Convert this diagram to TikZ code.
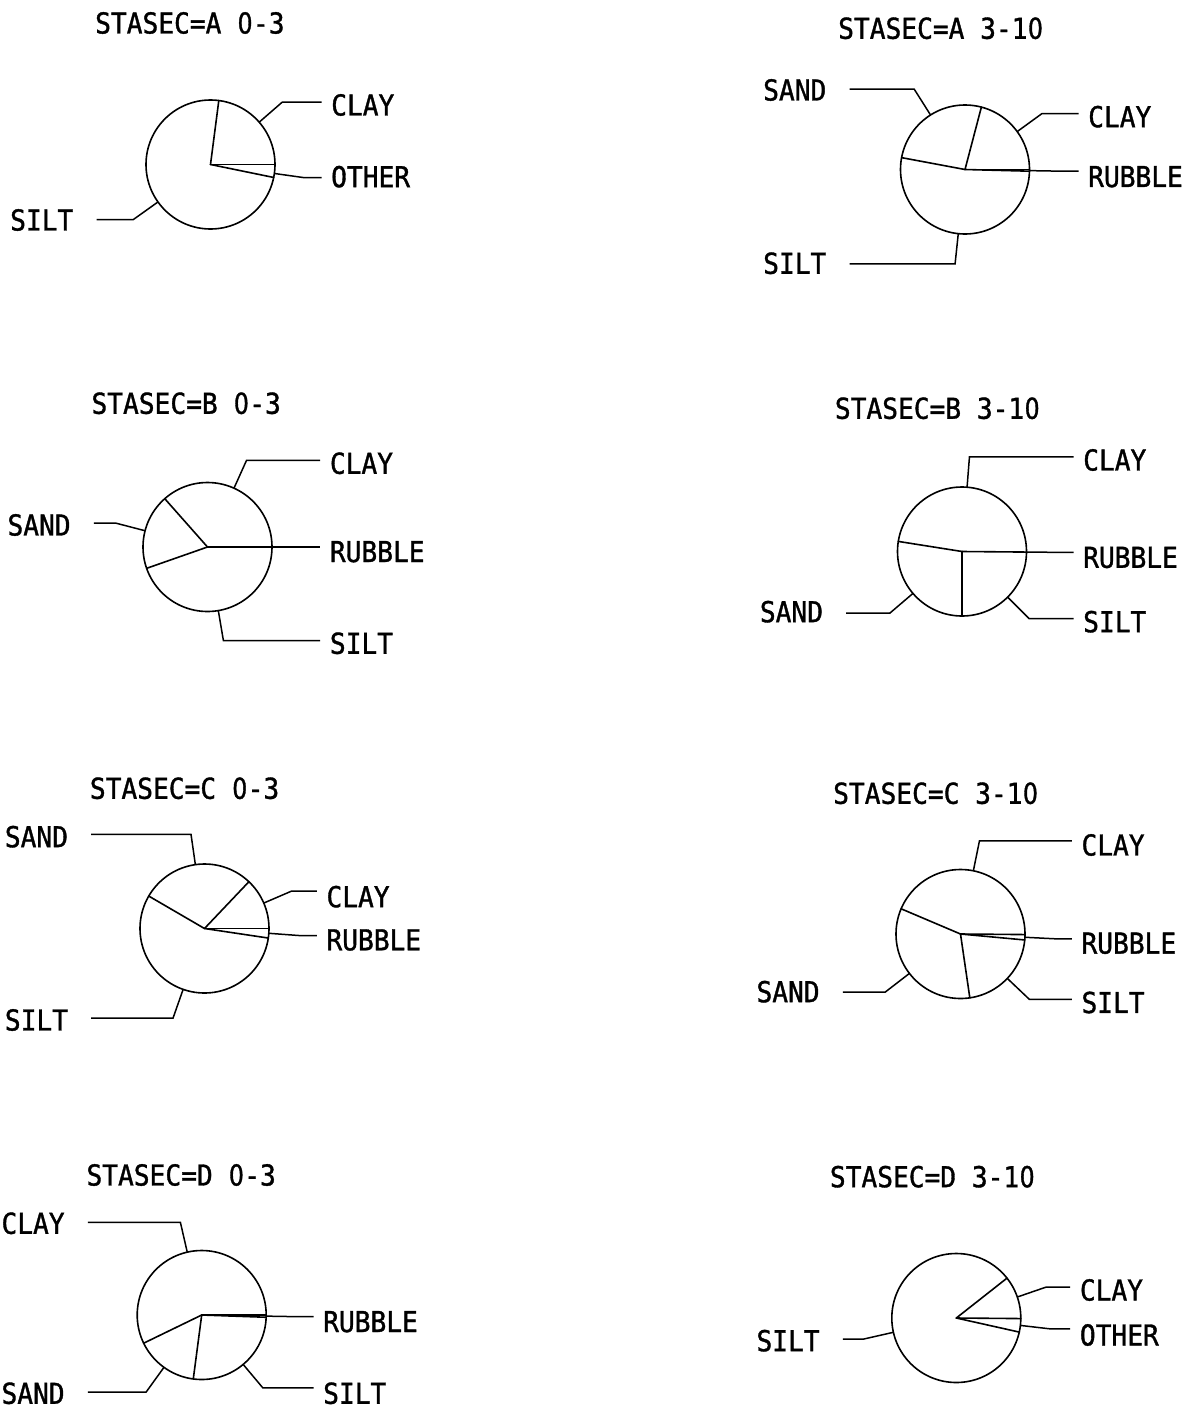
\documentclass[tikz,border=0pt]{standalone}
\usepackage{fontspec}
\newfontfamily\lblfont[FakeStretch=0.91,FakeBold=1.2]{DejaVu Sans Mono}
\newfontfamily\zerofont[FakeStretch=0.82,FakeBold=1.2]{DejaVu Sans}
\newcommand{\zr}{\makebox[15.78pt]{\zerofont 0}}
\usetikzlibrary{calc}
\tikzset{
  disk/.style={circle, draw, minimum size=129pt, inner sep=0pt, outer sep=0pt, line width=1.6pt},
  pieline/.style={line width=1.6pt, line cap=round},
  leader/.style={line width=1.5pt, line join=miter},
  lbl/.style={font=\lblfont\fontsize{28.8pt}{31pt}\selectfont, inner sep=0pt, anchor=west},
  ttl/.style={lbl},
}
\newcommand{\piedisk}[3]{%
  \node[disk] (#1) at (#2) {};
  \foreach \a in {#3} {\draw[pieline] (#1.center) -- ($(#1.center)+(\a:64.5)$);}
}
\newcommand{\leadR}[3]{%
  \draw[leader, shorten >=9.5pt] ($(#1.center)+(#2:64.5)$) -- ($(#1.center)+(#2:95)$) coordinate (elb) -- (elb -| #3.west);
}
\newcommand{\leadL}[3]{%
  \draw[leader, shorten >=23pt] ($(#1.center)+(#2:64.5)$) -- ($(#1.center)+(#2:95)$) coordinate (elb) -- (elb -| #3.east);
}
\begin{document}
\begin{tikzpicture}[x=1pt,y=1pt]
\useasboundingbox (0,0) rectangle (1193,-1408);

% ---------- STASEC=A 0-3
\node[ttl] (ta1) at (95,-23) {STASEC=A \zr-3};
\piedisk{a1}{210.5,-164.5}{82.6,0,-11.6}
\node[lbl] (a1clay) at (331,-105) {CLAY};
\node[lbl] (a1other) at (331,-176.7) {OTHER};
\node[lbl] (a1silt) at (10,-220) {SILT};
\leadR{a1}{41}{a1clay}
\leadR{a1}{-8}{a1other}
\leadL{a1}{215.5}{a1silt}

% ---------- STASEC=A 3-10
\node[ttl] (ta2) at (838,-28.3) {STASEC=A 3-1\zr};
\piedisk{a2}{965,-169.5}{75.3,0,-1.5,169.4}
\node[lbl] (a2sand) at (763,-90) {SAND};
\node[lbl] (a2clay) at (1088,-116.7) {CLAY};
\node[lbl] (a2rubble) at (1088,-176.7) {RUBBLE};
\node[lbl] (a2silt) at (763,-263.3) {SILT};
\leadL{a2}{122.3}{a2sand}
\leadR{a2}{36}{a2clay}
\leadR{a2}{-1}{a2rubble}
\leadL{a2}{264}{a2silt}

% ---------- STASEC=B 0-3
\node[ttl] (tb1) at (91.3,-403.3) {STASEC=B \zr-3};
\piedisk{b1}{207.5,-547}{131.5,0,199.3}
\node[lbl] (b1clay) at (329.7,-463.3) {CLAY};
\node[lbl] (b1sand) at (7.3,-525) {SAND};
\node[lbl] (b1rubble) at (329.7,-551.7) {RUBBLE};
\node[lbl] (b1silt) at (329.7,-643.3) {SILT};
\leadR{b1}{65.75}{b1clay}
\leadL{b1}{165.4}{b1sand}
\leadR{b1}{0}{b1rubble}
\leadR{b1}{279.65}{b1silt}

% ---------- STASEC=B 3-10
\node[ttl] (tb2) at (834.7,-408.3) {STASEC=B 3-1\zr};
\piedisk{b2}{962,-551.5}{171,-0.5,270}
\node[lbl] (b2clay) at (1083,-460) {CLAY};
\node[lbl] (b2rubble) at (1083,-557.5) {RUBBLE};
\node[lbl] (b2sand) at (759.7,-611.7) {SAND};
\node[lbl] (b2silt) at (1083,-621.7) {SILT};
\leadR{b2}{85.5}{b2clay}
\leadR{b2}{-0.5}{b2rubble}
\leadL{b2}{220.5}{b2sand}
\leadR{b2}{315}{b2silt}

% ---------- STASEC=C 0-3
\node[ttl] (tc1) at (89.7,-788.3) {STASEC=C \zr-3};
\piedisk{c1}{204.5,-928.5}{46.5,0,-8.5,149.8}
\node[lbl] (c1sand) at (4.7,-836.7) {SAND};
\node[lbl] (c1clay) at (326.3,-896.7) {CLAY};
\node[lbl] (c1rubble) at (326.3,-940) {RUBBLE};
\node[lbl] (c1silt) at (4.7,-1020) {SILT};
\leadR{c1}{23.25}{c1clay}
\leadR{c1}{-4.25}{c1rubble}
\leadL{c1}{98.15}{c1sand}
\leadL{c1}{250.65}{c1silt}

% ---------- STASEC=C 3-10
\node[ttl] (tc2) at (833,-793.3) {STASEC=C 3-1\zr};
\piedisk{c2}{960.5,-934}{157,-0.5,-5.3,278.3}
\node[lbl] (c2clay) at (1081.3,-845) {CLAY};
\node[lbl] (c2rubble) at (1081.3,-943.3) {RUBBLE};
\node[lbl] (c2sand) at (756.3,-991.7) {SAND};
\node[lbl] (c2silt) at (1081.3,-1002.5) {SILT};
\leadR{c2}{78.5}{c2clay}
\leadR{c2}{-2.9}{c2rubble}
\leadL{c2}{217.65}{c2sand}
\leadR{c2}{316.5}{c2silt}

% ---------- STASEC=D 0-3
\node[ttl] (td1) at (86.3,-1175) {STASEC=D \zr-3};
\piedisk{d1}{201.7,-1315}{0,-2,205.9,262.5}
\node[lbl] (d1clay) at (1.3,-1223.3) {CLAY};
\node[lbl] (d1rubble) at (323,-1321.7) {RUBBLE};
\node[lbl] (d1sand) at (1.3,-1393.3) {SAND};
\node[lbl] (d1silt) at (323,-1393.3) {SILT};
\leadL{d1}{102.95}{d1clay}
\leadR{d1}{-1}{d1rubble}
\leadL{d1}{234.2}{d1sand}
\leadR{d1}{310}{d1silt}

% ---------- STASEC=D 3-10
\node[ttl] (td2) at (829.7,-1176.7) {STASEC=D 3-1\zr};
\piedisk{d2}{956.3,-1318}{38.2,-0.5,-12.6}
\node[lbl] (d2clay) at (1079.7,-1290) {CLAY};
\node[lbl] (d2other) at (1079.7,-1335) {OTHER};
\node[lbl] (d2silt) at (756.3,-1340.7) {SILT};
\leadR{d2}{19}{d2clay}
\leadR{d2}{-6.6}{d2other}
\leadL{d2}{192.8}{d2silt}
\end{tikzpicture}
\end{document}
